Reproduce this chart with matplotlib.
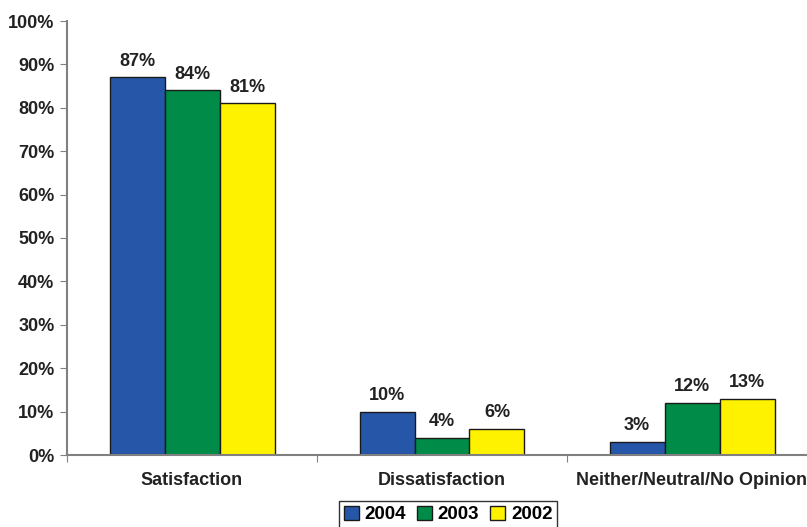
import numpy as np
from matplotlib import pyplot as plt

categories = ["Satisfaction", "Dissatisfaction", "Neither/Neutral/No Opinion"]
years = ["2004", "2003", "2002"]
values_2004 = [87, 10, 3]
values_2003 = [84, 4, 12]
values_2002 = [81, 6, 13]
colors = ["#2656a8", "#008c48", "#fff200"]

plt.rcParams['font.family'] = ['Liberation Sans', 'DejaVu Sans']
plt.rcParams['font.weight'] = 'bold'

fig = plt.figure(figsize=(8.07, 5.27), dpi=100)
ax = fig.add_axes([67 / 807, 1 - 455 / 527, 750 / 807, 434 / 527])

x = np.arange(len(categories))
width = 0.22
series = [values_2004, values_2003, values_2002]
for i, (vals, year, col) in enumerate(zip(series, years, colors)):
    pos = x + (i - 1) * width
    bars = ax.bar(pos, vals, width, color=col, edgecolor="#1a1a1a",
                  linewidth=1.0, label=year)
    for b, v in zip(bars, vals):
        ax.text(b.get_x() + b.get_width() / 2, v + 1.8, f"{v}%",
                ha="center", va="bottom", fontsize=13, fontweight="bold",
                color="#222222")

ax.set_xlim(-0.5, 2.5)
ax.set_ylim(0, 100)
ax.set_yticks(np.arange(0, 101, 10))
ax.set_yticklabels([f"{t}%" for t in range(0, 101, 10)], fontsize=13,
                   fontweight="bold", color="#222222")
ax.set_xticks([-0.5, 0.5, 1.5, 2.5])
ax.set_xticklabels([])
ax.set_xticks(x, minor=True)
ax.set_xticklabels(categories, minor=True, fontsize=13, fontweight="bold",
                   color="#222222")
ax.tick_params(axis="x", which="minor", length=0, pad=12)
ax.tick_params(axis="x", which="major", length=5, color="#808080")
ax.tick_params(axis="y", length=5, color="#808080", pad=4)

for s in ["top", "right"]:
    ax.spines[s].set_visible(False)
for s in ["left", "bottom"]:
    ax.spines[s].set_color("#808080")
    ax.spines[s].set_linewidth(1.5)

leg = fig.legend(loc="lower center", bbox_to_anchor=(448 / 807, -0.02), ncol=3,
                 frameon=True, fancybox=False, edgecolor="black",
                 handlelength=0.8, handleheight=0.8, handletextpad=0.3,
                 columnspacing=0.6, borderpad=0.25,
                 prop={"weight": "bold", "size": 13.5})
leg.get_frame().set_linewidth(1.0)

fig.savefig("out.png", dpi=100)
